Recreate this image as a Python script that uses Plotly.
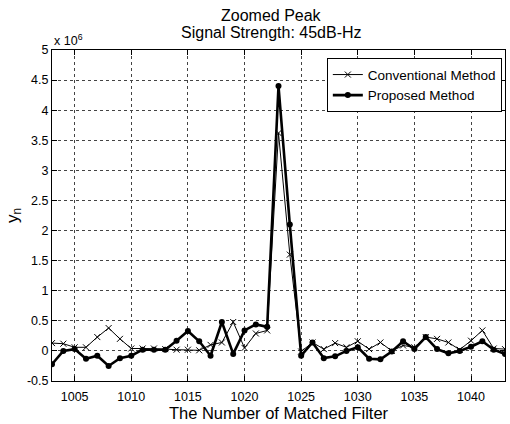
import plotly.graph_objects as go

# Matched filter index
filters = list(range(1003, 1044))

# y_n values in units of 1e6
conventional = [0.13, 0.12, 0.06, 0.06, 0.23, 0.38, 0.20, 0.04, 0.04, 0.04,
                0.03, 0.02, 0.02, 0.01, 0.10, 0.14, 0.48, 0.05, 0.29, 0.34,
                3.62, 1.60, -0.01, 0.14, 0.03, 0.13, 0.06, 0.16, 0.03, 0.14,
                0.00, 0.09, 0.06, 0.23, 0.20, 0.14, 0.02, 0.17, 0.34, 0.04, 0.03]
proposed = [-0.22, 0.00, 0.03, -0.13, -0.08, -0.25, -0.12, -0.08, 0.02, 0.02,
            0.02, 0.17, 0.33, 0.16, -0.08, 0.48, -0.05, 0.34, 0.44, 0.40,
            4.40, 2.10, -0.08, 0.14, -0.12, -0.09, 0.00, 0.06, -0.13, -0.14,
            -0.01, 0.16, 0.03, 0.23, 0.03, -0.04, 0.00, 0.07, 0.16, 0.02, -0.05]

x_ticks = [1005, 1010, 1015, 1020, 1025, 1030, 1035, 1040]
y_ticks = [-0.5, 0, 0.5, 1, 1.5, 2, 2.5, 3, 3.5, 4, 4.5, 5]
y_tick_labels = ["-0.5", "0", "0.5", "1", "1.5", "2", "2.5", "3", "3.5", "4", "4.5", "5"]

FONT = "Liberation Sans, Arial, Helvetica, sans-serif"

fig = go.Figure()
fig.add_trace(go.Scatter(
    x=filters, y=conventional, mode="lines+markers", name="Conventional Method",
    line=dict(color="black", width=1),
    marker=dict(symbol="x-thin", size=6, color="black", line=dict(color="black", width=1)),
))
fig.add_trace(go.Scatter(
    x=filters, y=proposed, mode="lines+markers", name="Proposed Method",
    line=dict(color="black", width=2.6),
    marker=dict(symbol="circle", size=6, color="black"),
))

axis_common = dict(
    showline=True, linecolor="black", linewidth=1, mirror="ticks",
    ticks="inside", ticklen=5, tickcolor="black",
    showgrid=True, gridcolor="#444444", griddash="dot", gridwidth=1,
    zeroline=False, tickfont=dict(family=FONT, size=12.5, color="black"),
)

fig.update_layout(
    width=510, height=424,
    margin=dict(l=52, r=5, t=50, b=43),
    paper_bgcolor="white", plot_bgcolor="white",
    font=dict(family=FONT, color="black"),
    xaxis=dict(range=[1003, 1043], tickvals=x_ticks, ticklabelstandoff=4,
               title=dict(text="The Number of Matched Filter", font=dict(family=FONT, size=16.5), standoff=2),
               **axis_common),
    yaxis=dict(range=[-0.5, 5], tickvals=y_ticks, ticktext=y_tick_labels,
               title=dict(text="y<sub>n</sub>", font=dict(family=FONT, size=17), standoff=4),
               **axis_common),
    legend=dict(x=0.993, y=0.975, xanchor="right", yanchor="top",
                bgcolor="white", bordercolor="black", borderwidth=1,
                font=dict(family=FONT, size=13.5, color="black"),
                tracegroupgap=0, itemwidth=30),
    showlegend=True,
)

fig.add_annotation(text="Zoomed Peak", xref="paper", yref="paper",
                   x=0.485, y=1.0, xanchor="center", yanchor="middle",
                   yshift=35, showarrow=False,
                   font=dict(family=FONT, size=16, color="black"))
fig.add_annotation(text="Signal Strength: 45dB-Hz", xref="paper", yref="paper",
                   x=0.485, y=1.0, xanchor="center", yanchor="middle",
                   yshift=18, showarrow=False,
                   font=dict(family=FONT, size=16, color="black"))
fig.add_annotation(text="x 10<sup>6</sup>", xref="paper", yref="paper",
                   x=0.0, y=1.0, xanchor="left", yanchor="bottom",
                   showarrow=False, font=dict(family=FONT, size=12.5, color="black"),
                   yshift=0)

fig.write_html("out.html")
